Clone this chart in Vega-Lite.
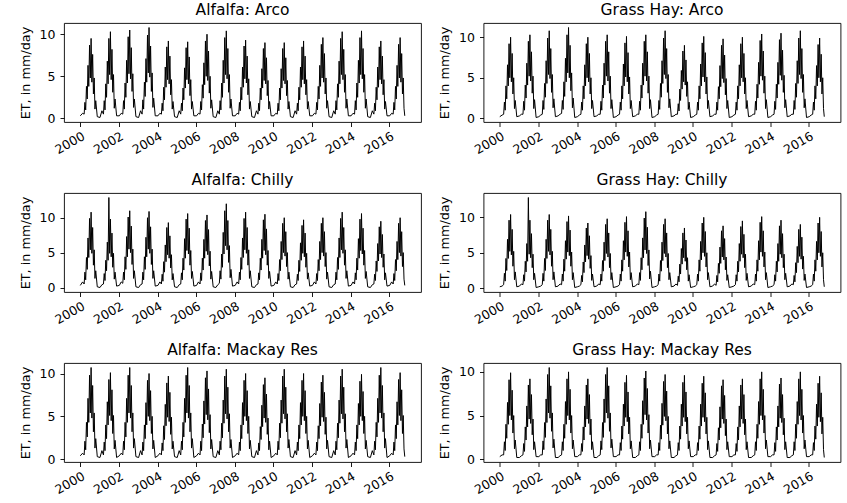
{
"$schema":"https://vega.github.io/schema/vega-lite/v6.json",
"padding":{"left":18,"top":2,"right":5,"bottom":5},
"config":{"font":"DejaVu Sans","view":{"stroke":"black","strokeWidth":0.9},
"axis":{"domain":false,"grid":false,"tickColor":"black","tickWidth":0.9,"labelColor":"black","labelFont":"DejaVu Sans","labelFontSize":12.5,"titleFont":"DejaVu Sans","titleFontWeight":"normal","titleColor":"black","labelOverlap":false,"labelFlush":false}},
"data":{"values":[
{"t":2000,"a":0.3,"b":0.2,"c":0.3,"d":0.2,"e":0.4,"f":0.3},
{"t":2000.12,"a":0.6,"b":0.4,"c":0.8,"d":0.3,"e":0.7,"f":0.5},
{"t":2000.2,"a":0.5,"b":0.5,"c":0.5,"d":0.5,"e":0.5,"f":0.5},
{"t":2000.24,"a":1.9,"b":2,"c":2.2,"d":2.1,"e":2.1,"f":2},
{"t":2000.28,"a":1,"b":1,"c":1.1,"d":1,"e":1.1,"f":1},
{"t":2000.32,"a":3.8,"b":4,"c":4.3,"d":4.2,"e":4.3,"f":4},
{"t":2000.36,"a":2.3,"b":2.4,"c":2.6,"d":2.5,"e":2.6,"f":2.4},
{"t":2000.4,"a":6.3,"b":6.6,"c":7.1,"d":6.9,"e":7.1,"f":6.5},
{"t":2000.44,"a":3.8,"b":4,"c":4.3,"d":4.2,"e":4.3,"f":4},
{"t":2000.48,"a":8.7,"b":9.2,"c":9.9,"d":9.6,"e":9.8,"f":9.1},
{"t":2000.52,"a":4.8,"b":5,"c":5.4,"d":5.2,"e":5.4,"f":5},
{"t":2000.56,"a":9.5,"b":10,"c":10.8,"d":10.4,"e":10.7,"f":9.9},
{"t":2000.6,"a":4.3,"b":4.5,"c":4.9,"d":4.7,"e":4.8,"f":4.5},
{"t":2000.64,"a":7.6,"b":8,"c":8.6,"d":8.3,"e":8.6,"f":7.9},
{"t":2000.68,"a":2.9,"b":3,"c":3.2,"d":3.1,"e":3.2,"f":3},
{"t":2000.72,"a":4.8,"b":5,"c":5.4,"d":5.2,"e":5.4,"f":5},
{"t":2000.76,"a":1.1,"b":1.2,"c":1.3,"d":1.2,"e":1.3,"f":1.2},
{"t":2000.8,"a":2.1,"b":2.2,"c":2.4,"d":2.3,"e":2.4,"f":2.2},
{"t":2000.88,"a":0.2,"b":0.2,"c":0.1,"d":0.2,"e":0.3,"f":0.2},
{"t":2001.02,"a":0.1,"b":0.3,"c":0,"d":0.3,"e":0.2,"f":0.2},
{"t":2001.12,"a":0.9,"b":0.5,"c":0.4,"d":0.6,"e":1,"f":0.4},
{"t":2001.2,"a":0.5,"b":0.5,"c":0.5,"d":0.5,"e":0.5,"f":0.5},
{"t":2001.24,"a":2.1,"b":2.1,"c":2,"d":1.9,"e":2,"f":1.8},
{"t":2001.28,"a":1,"b":1,"c":1,"d":1,"e":1,"f":0.9},
{"t":2001.32,"a":4.1,"b":4.1,"c":3.9,"d":3.8,"e":4,"f":3.7},
{"t":2001.36,"a":2.5,"b":2.5,"c":2.4,"d":2.3,"e":2.4,"f":2.2},
{"t":2001.4,"a":6.8,"b":6.8,"c":6.5,"d":6.3,"e":6.7,"f":6.1},
{"t":2001.44,"a":4.1,"b":4.1,"c":3.9,"d":3.8,"e":4,"f":3.7},
{"t":2001.48,"a":9.5,"b":9.5,"c":12.9,"d":12.8,"e":9.3,"f":8.5},
{"t":2001.52,"a":5.2,"b":5.2,"c":4.9,"d":4.8,"e":5.1,"f":4.6},
{"t":2001.56,"a":10.3,"b":10.3,"c":9.8,"d":9.6,"e":10.1,"f":9.2},
{"t":2001.6,"a":4.6,"b":4.6,"c":4.4,"d":4.3,"e":4.5,"f":4.1},
{"t":2001.64,"a":8.2,"b":8.2,"c":7.8,"d":7.7,"e":8.1,"f":7.4},
{"t":2001.68,"a":3.1,"b":3.1,"c":2.9,"d":2.9,"e":3,"f":2.8},
{"t":2001.72,"a":5.2,"b":5.2,"c":4.9,"d":4.8,"e":5.1,"f":4.6},
{"t":2001.76,"a":1.2,"b":1.2,"c":1.2,"d":1.2,"e":1.2,"f":1.1},
{"t":2001.8,"a":2.3,"b":2.3,"c":2.2,"d":2.1,"e":2.2,"f":2},
{"t":2001.88,"a":0.3,"b":0.1,"c":0.2,"d":0.1,"e":0.2,"f":0.3},
{"t":2002.02,"a":0.3,"b":0.2,"c":0.3,"d":0.2,"e":0.4,"f":0.3},
{"t":2002.12,"a":0.6,"b":0.4,"c":0.8,"d":0.3,"e":0.7,"f":0.5},
{"t":2002.2,"a":0.5,"b":0.5,"c":0.6,"d":0.5,"e":0.5,"f":0.5},
{"t":2002.24,"a":2.1,"b":2.2,"c":2.2,"d":2.1,"e":2.1,"f":2.1},
{"t":2002.28,"a":1.1,"b":1.1,"c":1.1,"d":1,"e":1.1,"f":1.1},
{"t":2002.32,"a":4.2,"b":4.3,"c":4.4,"d":4.2,"e":4.3,"f":4.2},
{"t":2002.36,"a":2.5,"b":2.6,"c":2.6,"d":2.5,"e":2.6,"f":2.5},
{"t":2002.4,"a":6.9,"b":7.1,"c":7.3,"d":6.9,"e":7.1,"f":6.9},
{"t":2002.44,"a":4.2,"b":4.3,"c":4.4,"d":4.2,"e":4.3,"f":4.2},
{"t":2002.48,"a":9.7,"b":9.9,"c":10.1,"d":9.6,"e":9.8,"f":9.7},
{"t":2002.52,"a":5.3,"b":5.4,"c":5.5,"d":5.2,"e":5.4,"f":5.3},
{"t":2002.56,"a":10.5,"b":10.8,"c":11,"d":10.4,"e":10.7,"f":10.5},
{"t":2002.6,"a":4.7,"b":4.9,"c":5,"d":4.7,"e":4.8,"f":4.7},
{"t":2002.64,"a":8.4,"b":8.6,"c":8.8,"d":8.3,"e":8.6,"f":8.4},
{"t":2002.68,"a":3.2,"b":3.2,"c":3.3,"d":3.1,"e":3.2,"f":3.2},
{"t":2002.72,"a":5.3,"b":5.4,"c":5.5,"d":5.2,"e":5.4,"f":5.3},
{"t":2002.76,"a":1.3,"b":1.3,"c":1.3,"d":1.2,"e":1.3,"f":1.3},
{"t":2002.8,"a":2.3,"b":2.4,"c":2.4,"d":2.3,"e":2.4,"f":2.3},
{"t":2002.88,"a":0.2,"b":0.2,"c":0.1,"d":0.2,"e":0.3,"f":0.2},
{"t":2003.02,"a":0.1,"b":0.3,"c":0,"d":0.3,"e":0.2,"f":0.2},
{"t":2003.12,"a":0.9,"b":0.5,"c":0.4,"d":0.6,"e":1,"f":0.4},
{"t":2003.2,"a":0.5,"b":0.6,"c":0.5,"d":0.5,"e":0.5,"f":0.5},
{"t":2003.24,"a":2.2,"b":2.2,"c":2.2,"d":2,"e":2,"f":2},
{"t":2003.28,"a":1.1,"b":1.1,"c":1.1,"d":1,"e":1,"f":1},
{"t":2003.32,"a":4.3,"b":4.5,"c":4.4,"d":4.1,"e":4,"f":4},
{"t":2003.36,"a":2.6,"b":2.7,"c":2.6,"d":2.4,"e":2.4,"f":2.4},
{"t":2003.4,"a":7.1,"b":7.4,"c":7.2,"d":6.7,"e":6.6,"f":6.6},
{"t":2003.44,"a":4.3,"b":4.5,"c":4.4,"d":4.1,"e":4,"f":4},
{"t":2003.48,"a":9.9,"b":10.3,"c":10,"d":9.4,"e":9.2,"f":9.2},
{"t":2003.52,"a":5.4,"b":5.6,"c":5.5,"d":5.1,"e":5,"f":5},
{"t":2003.56,"a":10.8,"b":11.2,"c":10.9,"d":10.2,"e":10,"f":10},
{"t":2003.6,"a":4.9,"b":5,"c":4.9,"d":4.6,"e":4.5,"f":4.5},
{"t":2003.64,"a":8.6,"b":9,"c":8.7,"d":8.2,"e":8,"f":8},
{"t":2003.68,"a":3.2,"b":3.4,"c":3.3,"d":3.1,"e":3,"f":3},
{"t":2003.72,"a":5.4,"b":5.6,"c":5.5,"d":5.1,"e":5,"f":5},
{"t":2003.76,"a":1.3,"b":1.3,"c":1.3,"d":1.2,"e":1.2,"f":1.2},
{"t":2003.8,"a":2.4,"b":2.5,"c":2.4,"d":2.2,"e":2.2,"f":2.2},
{"t":2003.88,"a":0.3,"b":0.1,"c":0.2,"d":0.1,"e":0.2,"f":0.3},
{"t":2004.02,"a":0.3,"b":0.2,"c":0.3,"d":0.2,"e":0.4,"f":0.3},
{"t":2004.12,"a":0.6,"b":0.4,"c":0.8,"d":0.3,"e":0.7,"f":0.5},
{"t":2004.2,"a":0.5,"b":0.5,"c":0.5,"d":0.5,"e":0.5,"f":0.5},
{"t":2004.24,"a":1.8,"b":2,"c":1.9,"d":1.8,"e":1.9,"f":1.8},
{"t":2004.28,"a":0.9,"b":1,"c":0.9,"d":0.9,"e":1,"f":0.9},
{"t":2004.32,"a":3.7,"b":4,"c":3.7,"d":3.7,"e":3.9,"f":3.7},
{"t":2004.36,"a":2.2,"b":2.4,"c":2.2,"d":2.2,"e":2.3,"f":2.2},
{"t":2004.4,"a":6.1,"b":6.6,"c":6.1,"d":6.1,"e":6.4,"f":6.1},
{"t":2004.44,"a":3.7,"b":4,"c":3.7,"d":3.7,"e":3.9,"f":3.7},
{"t":2004.48,"a":8.5,"b":9.2,"c":8.6,"d":8.5,"e":8.9,"f":8.5},
{"t":2004.52,"a":4.6,"b":5,"c":4.7,"d":4.6,"e":4.9,"f":4.6},
{"t":2004.56,"a":9.2,"b":10,"c":9.3,"d":9.2,"e":9.7,"f":9.2},
{"t":2004.6,"a":4.1,"b":4.5,"c":4.2,"d":4.1,"e":4.4,"f":4.1},
{"t":2004.64,"a":7.4,"b":8,"c":7.4,"d":7.4,"e":7.8,"f":7.4},
{"t":2004.68,"a":2.8,"b":3,"c":2.8,"d":2.8,"e":2.9,"f":2.8},
{"t":2004.72,"a":4.6,"b":5,"c":4.7,"d":4.6,"e":4.9,"f":4.6},
{"t":2004.76,"a":1.1,"b":1.2,"c":1.1,"d":1.1,"e":1.2,"f":1.1},
{"t":2004.8,"a":2,"b":2.2,"c":2,"d":2,"e":2.1,"f":2},
{"t":2004.88,"a":0.2,"b":0.2,"c":0.1,"d":0.2,"e":0.3,"f":0.2},
{"t":2005.02,"a":0.1,"b":0.3,"c":0,"d":0.3,"e":0.2,"f":0.2},
{"t":2005.12,"a":0.9,"b":0.5,"c":0.4,"d":0.6,"e":1,"f":0.4},
{"t":2005.2,"a":0.5,"b":0.5,"c":0.5,"d":0.5,"e":0.5,"f":0.5},
{"t":2005.24,"a":1.8,"b":2.1,"c":2.1,"d":2,"e":2.1,"f":2.1},
{"t":2005.28,"a":0.9,"b":1,"c":1.1,"d":1,"e":1.1,"f":1.1},
{"t":2005.32,"a":3.6,"b":4.1,"c":4.2,"d":3.9,"e":4.3,"f":4.2},
{"t":2005.36,"a":2.2,"b":2.5,"c":2.5,"d":2.4,"e":2.6,"f":2.5},
{"t":2005.4,"a":6,"b":6.8,"c":7,"d":6.5,"e":7.1,"f":6.9},
{"t":2005.44,"a":3.6,"b":4.1,"c":4.2,"d":3.9,"e":4.3,"f":4.2},
{"t":2005.48,"a":8.4,"b":9.5,"c":9.8,"d":9,"e":9.8,"f":9.7},
{"t":2005.52,"a":4.6,"b":5.2,"c":5.3,"d":4.9,"e":5.4,"f":5.3},
{"t":2005.56,"a":9.1,"b":10.3,"c":10.6,"d":9.8,"e":10.7,"f":10.5},
{"t":2005.6,"a":4.1,"b":4.6,"c":4.8,"d":4.4,"e":4.8,"f":4.7},
{"t":2005.64,"a":7.3,"b":8.2,"c":8.5,"d":7.8,"e":8.6,"f":8.4},
{"t":2005.68,"a":2.7,"b":3.1,"c":3.2,"d":2.9,"e":3.2,"f":3.2},
{"t":2005.72,"a":4.6,"b":5.2,"c":5.3,"d":4.9,"e":5.4,"f":5.3},
{"t":2005.76,"a":1.1,"b":1.2,"c":1.3,"d":1.2,"e":1.3,"f":1.3},
{"t":2005.8,"a":2,"b":2.3,"c":2.3,"d":2.2,"e":2.4,"f":2.3},
{"t":2005.88,"a":0.3,"b":0.1,"c":0.2,"d":0.1,"e":0.2,"f":0.3},
{"t":2006.02,"a":0.3,"b":0.2,"c":0.3,"d":0.2,"e":0.4,"f":0.3},
{"t":2006.12,"a":0.6,"b":0.4,"c":0.8,"d":0.3,"e":0.7,"f":0.5},
{"t":2006.2,"a":0.5,"b":0.5,"c":0.5,"d":0.5,"e":0.5,"f":0.5},
{"t":2006.24,"a":2,"b":2,"c":2.1,"d":2,"e":2.1,"f":1.9},
{"t":2006.28,"a":1,"b":1,"c":1,"d":1,"e":1,"f":1},
{"t":2006.32,"a":4,"b":4,"c":4.2,"d":4,"e":4.1,"f":3.8},
{"t":2006.36,"a":2.4,"b":2.4,"c":2.5,"d":2.4,"e":2.5,"f":2.3},
{"t":2006.4,"a":6.6,"b":6.7,"c":6.9,"d":6.7,"e":6.8,"f":6.3},
{"t":2006.44,"a":4,"b":4,"c":4.2,"d":4,"e":4.1,"f":3.8},
{"t":2006.48,"a":9.2,"b":9.3,"c":9.6,"d":9.3,"e":9.5,"f":8.8},
{"t":2006.52,"a":5,"b":5.1,"c":5.2,"d":5.1,"e":5.2,"f":4.8},
{"t":2006.56,"a":10,"b":10.1,"c":10.4,"d":10.1,"e":10.3,"f":9.6},
{"t":2006.6,"a":4.5,"b":4.5,"c":4.7,"d":4.5,"e":4.6,"f":4.3},
{"t":2006.64,"a":8,"b":8.1,"c":8.3,"d":8.1,"e":8.2,"f":7.7},
{"t":2006.68,"a":3,"b":3,"c":3.1,"d":3,"e":3.1,"f":2.9},
{"t":2006.72,"a":5,"b":5.1,"c":5.2,"d":5.1,"e":5.2,"f":4.8},
{"t":2006.76,"a":1.2,"b":1.2,"c":1.2,"d":1.2,"e":1.2,"f":1.2},
{"t":2006.8,"a":2.2,"b":2.2,"c":2.3,"d":2.2,"e":2.3,"f":2.1},
{"t":2006.88,"a":0.2,"b":0.2,"c":0.1,"d":0.2,"e":0.3,"f":0.2},
{"t":2007.02,"a":0.1,"b":0.3,"c":0,"d":0.3,"e":0.2,"f":0.2},
{"t":2007.12,"a":0.9,"b":0.5,"c":0.4,"d":0.6,"e":1,"f":0.4},
{"t":2007.2,"a":0.5,"b":0.5,"c":0.6,"d":0.5,"e":0.5,"f":0.5},
{"t":2007.24,"a":2.1,"b":2.1,"c":2.4,"d":2.2,"e":2.1,"f":2},
{"t":2007.28,"a":1,"b":1,"c":1.2,"d":1.1,"e":1.1,"f":1},
{"t":2007.32,"a":4.2,"b":4.1,"c":4.8,"d":4.3,"e":4.2,"f":4},
{"t":2007.36,"a":2.5,"b":2.5,"c":2.9,"d":2.6,"e":2.5,"f":2.4},
{"t":2007.4,"a":6.9,"b":6.8,"c":7.9,"d":7.1,"e":6.9,"f":6.7},
{"t":2007.44,"a":4.2,"b":4.1,"c":4.8,"d":4.3,"e":4.2,"f":4},
{"t":2007.48,"a":9.6,"b":9.5,"c":11,"d":9.9,"e":9.7,"f":9.3},
{"t":2007.52,"a":5.2,"b":5.2,"c":6,"d":5.4,"e":5.3,"f":5.1},
{"t":2007.56,"a":10.4,"b":10.3,"c":12,"d":10.8,"e":10.5,"f":10.1},
{"t":2007.6,"a":4.7,"b":4.6,"c":5.4,"d":4.9,"e":4.7,"f":4.5},
{"t":2007.64,"a":8.3,"b":8.2,"c":9.6,"d":8.6,"e":8.4,"f":8.1},
{"t":2007.68,"a":3.1,"b":3.1,"c":3.6,"d":3.2,"e":3.2,"f":3},
{"t":2007.72,"a":5.2,"b":5.2,"c":6,"d":5.4,"e":5.3,"f":5.1},
{"t":2007.76,"a":1.2,"b":1.2,"c":1.4,"d":1.3,"e":1.3,"f":1.2},
{"t":2007.8,"a":2.3,"b":2.3,"c":2.6,"d":2.4,"e":2.3,"f":2.2},
{"t":2007.88,"a":0.3,"b":0.1,"c":0.2,"d":0.1,"e":0.2,"f":0.3},
{"t":2008.02,"a":0.3,"b":0.2,"c":0.3,"d":0.2,"e":0.4,"f":0.3},
{"t":2008.12,"a":0.6,"b":0.4,"c":0.8,"d":0.3,"e":0.7,"f":0.5},
{"t":2008.2,"a":0.5,"b":0.5,"c":0.5,"d":0.5,"e":0.5,"f":0.5},
{"t":2008.24,"a":1.9,"b":2.2,"c":2.2,"d":2,"e":2,"f":1.9},
{"t":2008.28,"a":0.9,"b":1.1,"c":1.1,"d":1,"e":1,"f":1},
{"t":2008.32,"a":3.7,"b":4.3,"c":4.3,"d":3.9,"e":4,"f":3.9},
{"t":2008.36,"a":2.2,"b":2.6,"c":2.6,"d":2.4,"e":2.4,"f":2.3},
{"t":2008.4,"a":6.1,"b":7.1,"c":7.1,"d":6.5,"e":6.6,"f":6.4},
{"t":2008.44,"a":3.7,"b":4.3,"c":4.3,"d":3.9,"e":4,"f":3.9},
{"t":2008.48,"a":8.6,"b":9.9,"c":9.9,"d":9,"e":9.2,"f":8.9},
{"t":2008.52,"a":4.7,"b":5.4,"c":5.4,"d":4.9,"e":5,"f":4.9},
{"t":2008.56,"a":9.3,"b":10.8,"c":10.8,"d":9.8,"e":10,"f":9.7},
{"t":2008.6,"a":4.2,"b":4.9,"c":4.9,"d":4.4,"e":4.5,"f":4.4},
{"t":2008.64,"a":7.4,"b":8.6,"c":8.6,"d":7.8,"e":8,"f":7.8},
{"t":2008.68,"a":2.8,"b":3.2,"c":3.2,"d":2.9,"e":3,"f":2.9},
{"t":2008.72,"a":4.7,"b":5.4,"c":5.4,"d":4.9,"e":5,"f":4.9},
{"t":2008.76,"a":1.1,"b":1.3,"c":1.3,"d":1.2,"e":1.2,"f":1.2},
{"t":2008.8,"a":2,"b":2.4,"c":2.4,"d":2.2,"e":2.2,"f":2.1},
{"t":2008.88,"a":0.2,"b":0.2,"c":0.1,"d":0.2,"e":0.3,"f":0.2},
{"t":2009.02,"a":0.1,"b":0.3,"c":0,"d":0.3,"e":0.2,"f":0.2},
{"t":2009.12,"a":0.9,"b":0.5,"c":0.4,"d":0.6,"e":1,"f":0.4},
{"t":2009.2,"a":0.5,"b":0.5,"c":0.5,"d":0.4,"e":0.5,"f":0.5},
{"t":2009.24,"a":1.8,"b":1.8,"c":2.1,"d":1.7,"e":1.9,"f":1.9},
{"t":2009.28,"a":0.9,"b":0.9,"c":1.1,"d":0.9,"e":1,"f":1},
{"t":2009.32,"a":3.6,"b":3.6,"c":4.2,"d":3.4,"e":3.8,"f":3.8},
{"t":2009.36,"a":2.2,"b":2.2,"c":2.5,"d":2,"e":2.3,"f":2.3},
{"t":2009.4,"a":5.9,"b":5.9,"c":6.9,"d":5.6,"e":6.3,"f":6.3},
{"t":2009.44,"a":3.6,"b":3.6,"c":4.2,"d":3.4,"e":3.8,"f":3.8},
{"t":2009.48,"a":8.3,"b":8.3,"c":9.7,"d":7.8,"e":8.7,"f":8.8},
{"t":2009.52,"a":4.5,"b":4.5,"c":5.3,"d":4.3,"e":4.8,"f":4.8},
{"t":2009.56,"a":9,"b":9,"c":10.5,"d":8.5,"e":9.5,"f":9.6},
{"t":2009.6,"a":4.1,"b":4.1,"c":4.7,"d":3.8,"e":4.3,"f":4.3},
{"t":2009.64,"a":7.2,"b":7.2,"c":8.4,"d":6.8,"e":7.6,"f":7.7},
{"t":2009.68,"a":2.7,"b":2.7,"c":3.2,"d":2.6,"e":2.9,"f":2.9},
{"t":2009.72,"a":4.5,"b":4.5,"c":5.3,"d":4.3,"e":4.8,"f":4.8},
{"t":2009.76,"a":1.1,"b":1.1,"c":1.3,"d":1,"e":1.1,"f":1.2},
{"t":2009.8,"a":2,"b":2,"c":2.3,"d":1.9,"e":2.1,"f":2.1},
{"t":2009.88,"a":0.3,"b":0.1,"c":0.2,"d":0.1,"e":0.2,"f":0.3},
{"t":2010.02,"a":0.3,"b":0.2,"c":0.3,"d":0.2,"e":0.4,"f":0.3},
{"t":2010.12,"a":0.6,"b":0.4,"c":0.8,"d":0.3,"e":0.7,"f":0.5},
{"t":2010.2,"a":0.5,"b":0.5,"c":0.5,"d":0.5,"e":0.5,"f":0.5},
{"t":2010.24,"a":1.8,"b":2,"c":2,"d":2,"e":2.1,"f":1.9},
{"t":2010.28,"a":0.9,"b":1,"c":1,"d":1,"e":1.1,"f":1},
{"t":2010.32,"a":3.6,"b":4,"c":4,"d":4,"e":4.2,"f":3.8},
{"t":2010.36,"a":2.2,"b":2.4,"c":2.4,"d":2.4,"e":2.5,"f":2.3},
{"t":2010.4,"a":5.9,"b":6.7,"c":6.6,"d":6.6,"e":6.9,"f":6.3},
{"t":2010.44,"a":3.6,"b":4,"c":4,"d":4,"e":4.2,"f":3.8},
{"t":2010.48,"a":8.3,"b":9.3,"c":9.2,"d":9.2,"e":9.7,"f":8.7},
{"t":2010.52,"a":4.5,"b":5.1,"c":5,"d":5,"e":5.3,"f":4.8},
{"t":2010.56,"a":9,"b":10.1,"c":10,"d":10,"e":10.5,"f":9.5},
{"t":2010.6,"a":4.1,"b":4.5,"c":4.5,"d":4.5,"e":4.7,"f":4.3},
{"t":2010.64,"a":7.2,"b":8.1,"c":8,"d":8,"e":8.4,"f":7.6},
{"t":2010.68,"a":2.7,"b":3,"c":3,"d":3,"e":3.2,"f":2.9},
{"t":2010.72,"a":4.5,"b":5.1,"c":5,"d":5,"e":5.3,"f":4.8},
{"t":2010.76,"a":1.1,"b":1.2,"c":1.2,"d":1.2,"e":1.3,"f":1.1},
{"t":2010.8,"a":2,"b":2.2,"c":2.2,"d":2.2,"e":2.3,"f":2.1},
{"t":2010.88,"a":0.2,"b":0.2,"c":0.1,"d":0.2,"e":0.3,"f":0.2},
{"t":2011.02,"a":0.1,"b":0.3,"c":0,"d":0.3,"e":0.2,"f":0.2},
{"t":2011.12,"a":0.9,"b":0.5,"c":0.4,"d":0.6,"e":1,"f":0.4},
{"t":2011.2,"a":0.5,"b":0.5,"c":0.5,"d":0.4,"e":0.5,"f":0.5},
{"t":2011.24,"a":1.8,"b":2,"c":1.9,"d":1.8,"e":2,"f":1.8},
{"t":2011.28,"a":0.9,"b":1,"c":1,"d":0.9,"e":1,"f":0.9},
{"t":2011.32,"a":3.7,"b":3.9,"c":3.9,"d":3.5,"e":4,"f":3.6},
{"t":2011.36,"a":2.2,"b":2.4,"c":2.3,"d":2.1,"e":2.4,"f":2.2},
{"t":2011.4,"a":6.1,"b":6.5,"c":6.4,"d":5.8,"e":6.6,"f":6},
{"t":2011.44,"a":3.7,"b":3.9,"c":3.9,"d":3.5,"e":4,"f":3.6},
{"t":2011.48,"a":8.5,"b":9,"c":8.9,"d":8.1,"e":9.2,"f":8.4},
{"t":2011.52,"a":4.6,"b":4.9,"c":4.9,"d":4.4,"e":5,"f":4.6},
{"t":2011.56,"a":9.2,"b":9.8,"c":9.7,"d":8.8,"e":10,"f":9.1},
{"t":2011.6,"a":4.1,"b":4.4,"c":4.4,"d":4,"e":4.5,"f":4.1},
{"t":2011.64,"a":7.4,"b":7.8,"c":7.8,"d":7,"e":8,"f":7.3},
{"t":2011.68,"a":2.8,"b":2.9,"c":2.9,"d":2.6,"e":3,"f":2.7},
{"t":2011.72,"a":4.6,"b":4.9,"c":4.9,"d":4.4,"e":5,"f":4.6},
{"t":2011.76,"a":1.1,"b":1.2,"c":1.2,"d":1.1,"e":1.2,"f":1.1},
{"t":2011.8,"a":2,"b":2.2,"c":2.1,"d":1.9,"e":2.2,"f":2},
{"t":2011.88,"a":0.3,"b":0.1,"c":0.2,"d":0.1,"e":0.2,"f":0.3},
{"t":2012.02,"a":0.3,"b":0.2,"c":0.3,"d":0.2,"e":0.4,"f":0.3},
{"t":2012.12,"a":0.6,"b":0.4,"c":0.8,"d":0.3,"e":0.7,"f":0.5},
{"t":2012.2,"a":0.5,"b":0.5,"c":0.5,"d":0.5,"e":0.5,"f":0.5},
{"t":2012.24,"a":1.9,"b":2,"c":2,"d":1.9,"e":2,"f":1.8},
{"t":2012.28,"a":1,"b":1,"c":1,"d":1,"e":1,"f":0.9},
{"t":2012.32,"a":3.8,"b":4,"c":4,"d":3.8,"e":3.9,"f":3.7},
{"t":2012.36,"a":2.3,"b":2.4,"c":2.4,"d":2.3,"e":2.4,"f":2.2},
{"t":2012.4,"a":6.3,"b":6.6,"c":6.6,"d":6.3,"e":6.5,"f":6.1},
{"t":2012.44,"a":3.8,"b":4,"c":4,"d":3.8,"e":3.9,"f":3.7},
{"t":2012.48,"a":8.8,"b":9.2,"c":9.2,"d":8.7,"e":9,"f":8.5},
{"t":2012.52,"a":4.8,"b":5,"c":5,"d":4.8,"e":4.9,"f":4.6},
{"t":2012.56,"a":9.6,"b":10,"c":10,"d":9.5,"e":9.8,"f":9.2},
{"t":2012.6,"a":4.3,"b":4.5,"c":4.5,"d":4.3,"e":4.4,"f":4.1},
{"t":2012.64,"a":7.7,"b":8,"c":8,"d":7.6,"e":7.8,"f":7.4},
{"t":2012.68,"a":2.9,"b":3,"c":3,"d":2.9,"e":2.9,"f":2.8},
{"t":2012.72,"a":4.8,"b":5,"c":5,"d":4.8,"e":4.9,"f":4.6},
{"t":2012.76,"a":1.2,"b":1.2,"c":1.2,"d":1.1,"e":1.2,"f":1.1},
{"t":2012.8,"a":2.1,"b":2.2,"c":2.2,"d":2.1,"e":2.2,"f":2},
{"t":2012.88,"a":0.2,"b":0.2,"c":0.1,"d":0.2,"e":0.3,"f":0.2},
{"t":2013.02,"a":0.1,"b":0.3,"c":0,"d":0.3,"e":0.2,"f":0.2},
{"t":2013.12,"a":0.9,"b":0.5,"c":0.4,"d":0.6,"e":1,"f":0.4},
{"t":2013.2,"a":0.5,"b":0.5,"c":0.5,"d":0.5,"e":0.5,"f":0.5},
{"t":2013.24,"a":2.1,"b":2.1,"c":2.2,"d":2,"e":2.1,"f":2},
{"t":2013.28,"a":1,"b":1,"c":1.1,"d":1,"e":1.1,"f":1},
{"t":2013.32,"a":4.1,"b":4.2,"c":4.3,"d":4,"e":4.2,"f":4},
{"t":2013.36,"a":2.5,"b":2.5,"c":2.6,"d":2.4,"e":2.5,"f":2.4},
{"t":2013.4,"a":6.8,"b":6.9,"c":7.1,"d":6.7,"e":6.9,"f":6.6},
{"t":2013.44,"a":4.1,"b":4.2,"c":4.3,"d":4,"e":4.2,"f":4},
{"t":2013.48,"a":9.5,"b":9.6,"c":9.9,"d":9.3,"e":9.7,"f":9.2},
{"t":2013.52,"a":5.2,"b":5.2,"c":5.4,"d":5.1,"e":5.3,"f":5},
{"t":2013.56,"a":10.3,"b":10.4,"c":10.8,"d":10.1,"e":10.5,"f":10},
{"t":2013.6,"a":4.6,"b":4.7,"c":4.9,"d":4.5,"e":4.7,"f":4.5},
{"t":2013.64,"a":8.2,"b":8.3,"c":8.6,"d":8.1,"e":8.4,"f":8},
{"t":2013.68,"a":3.1,"b":3.1,"c":3.2,"d":3,"e":3.2,"f":3},
{"t":2013.72,"a":5.2,"b":5.2,"c":5.4,"d":5.1,"e":5.3,"f":5},
{"t":2013.76,"a":1.2,"b":1.2,"c":1.3,"d":1.2,"e":1.3,"f":1.2},
{"t":2013.8,"a":2.3,"b":2.3,"c":2.4,"d":2.2,"e":2.3,"f":2.2},
{"t":2013.88,"a":0.3,"b":0.1,"c":0.2,"d":0.1,"e":0.2,"f":0.3},
{"t":2014.02,"a":0.3,"b":0.2,"c":0.3,"d":0.2,"e":0.4,"f":0.3},
{"t":2014.12,"a":0.6,"b":0.4,"c":0.8,"d":0.3,"e":0.7,"f":0.5},
{"t":2014.2,"a":0.5,"b":0.5,"c":0.5,"d":0.5,"e":0.5,"f":0.5},
{"t":2014.24,"a":2.1,"b":2.1,"c":2.1,"d":1.9,"e":2,"f":1.9},
{"t":2014.28,"a":1,"b":1.1,"c":1.1,"d":1,"e":1,"f":0.9},
{"t":2014.32,"a":4.2,"b":4.2,"c":4.2,"d":3.8,"e":4,"f":3.7},
{"t":2014.36,"a":2.5,"b":2.5,"c":2.5,"d":2.3,"e":2.4,"f":2.2},
{"t":2014.4,"a":6.9,"b":6.9,"c":7,"d":6.3,"e":6.5,"f":6.1},
{"t":2014.44,"a":4.2,"b":4.2,"c":4.2,"d":3.8,"e":4,"f":3.7},
{"t":2014.48,"a":9.6,"b":9.7,"c":9.8,"d":8.8,"e":9.1,"f":8.6},
{"t":2014.52,"a":5.2,"b":5.3,"c":5.3,"d":4.8,"e":5,"f":4.7},
{"t":2014.56,"a":10.4,"b":10.5,"c":10.6,"d":9.6,"e":9.9,"f":9.3},
{"t":2014.6,"a":4.7,"b":4.7,"c":4.8,"d":4.3,"e":4.5,"f":4.2},
{"t":2014.64,"a":8.3,"b":8.4,"c":8.5,"d":7.7,"e":7.9,"f":7.4},
{"t":2014.68,"a":3.1,"b":3.2,"c":3.2,"d":2.9,"e":3,"f":2.8},
{"t":2014.72,"a":5.2,"b":5.3,"c":5.3,"d":4.8,"e":5,"f":4.7},
{"t":2014.76,"a":1.2,"b":1.3,"c":1.3,"d":1.2,"e":1.2,"f":1.1},
{"t":2014.8,"a":2.3,"b":2.3,"c":2.3,"d":2.1,"e":2.2,"f":2},
{"t":2014.88,"a":0.2,"b":0.2,"c":0.1,"d":0.2,"e":0.3,"f":0.2},
{"t":2015.02,"a":0.1,"b":0.3,"c":0,"d":0.3,"e":0.2,"f":0.2},
{"t":2015.12,"a":0.9,"b":0.5,"c":0.4,"d":0.6,"e":1,"f":0.4},
{"t":2015.2,"a":0.5,"b":0.5,"c":0.5,"d":0.5,"e":0.5,"f":0.5},
{"t":2015.24,"a":1.8,"b":2.2,"c":1.9,"d":1.8,"e":2.1,"f":2},
{"t":2015.28,"a":0.9,"b":1.1,"c":1,"d":0.9,"e":1.1,"f":1},
{"t":2015.32,"a":3.7,"b":4.3,"c":3.8,"d":3.6,"e":4.3,"f":4},
{"t":2015.36,"a":2.2,"b":2.6,"c":2.3,"d":2.2,"e":2.6,"f":2.4},
{"t":2015.4,"a":6.1,"b":7.1,"c":6.3,"d":5.9,"e":7.1,"f":6.6},
{"t":2015.44,"a":3.7,"b":4.3,"c":3.8,"d":3.6,"e":4.3,"f":4},
{"t":2015.48,"a":8.5,"b":9.9,"c":8.7,"d":8.3,"e":9.8,"f":9.2},
{"t":2015.52,"a":4.6,"b":5.4,"c":4.8,"d":4.5,"e":5.4,"f":5},
{"t":2015.56,"a":9.2,"b":10.8,"c":9.5,"d":9,"e":10.7,"f":10},
{"t":2015.6,"a":4.1,"b":4.9,"c":4.3,"d":4.1,"e":4.8,"f":4.5},
{"t":2015.64,"a":7.4,"b":8.6,"c":7.6,"d":7.2,"e":8.6,"f":8},
{"t":2015.68,"a":2.8,"b":3.2,"c":2.9,"d":2.7,"e":3.2,"f":3},
{"t":2015.72,"a":4.6,"b":5.4,"c":4.8,"d":4.5,"e":5.4,"f":5},
{"t":2015.76,"a":1.1,"b":1.3,"c":1.1,"d":1.1,"e":1.3,"f":1.2},
{"t":2015.8,"a":2,"b":2.4,"c":2.1,"d":2,"e":2.4,"f":2.2},
{"t":2015.88,"a":0.3,"b":0.1,"c":0.2,"d":0.1,"e":0.2,"f":0.3},
{"t":2016.02,"a":0.3,"b":0.2,"c":0.3,"d":0.2,"e":0.4,"f":0.3},
{"t":2016.12,"a":0.6,"b":0.4,"c":0.8,"d":0.3,"e":0.7,"f":0.5},
{"t":2016.2,"a":0.5,"b":0.5,"c":0.5,"d":0.5,"e":0.5,"f":0.5},
{"t":2016.24,"a":1.9,"b":2,"c":2,"d":2,"e":2,"f":1.9},
{"t":2016.28,"a":1,"b":1,"c":1,"d":1,"e":1,"f":1},
{"t":2016.32,"a":3.8,"b":4,"c":4,"d":4,"e":4,"f":3.8},
{"t":2016.36,"a":2.3,"b":2.4,"c":2.4,"d":2.4,"e":2.4,"f":2.3},
{"t":2016.4,"a":6.3,"b":6.5,"c":6.6,"d":6.6,"e":6.7,"f":6.3},
{"t":2016.44,"a":3.8,"b":4,"c":4,"d":4,"e":4,"f":3.8},
{"t":2016.48,"a":8.8,"b":9.1,"c":9.2,"d":9.2,"e":9.3,"f":8.7},
{"t":2016.52,"a":4.8,"b":5,"c":5,"d":5,"e":5.1,"f":4.8},
{"t":2016.56,"a":9.6,"b":9.9,"c":10,"d":10,"e":10.1,"f":9.5},
{"t":2016.6,"a":4.3,"b":4.5,"c":4.5,"d":4.5,"e":4.5,"f":4.3},
{"t":2016.64,"a":7.7,"b":7.9,"c":8,"d":8,"e":8.1,"f":7.6},
{"t":2016.68,"a":2.9,"b":3,"c":3,"d":3,"e":3,"f":2.9},
{"t":2016.72,"a":4.8,"b":5,"c":5,"d":5,"e":5.1,"f":4.8},
{"t":2016.76,"a":1.2,"b":1.2,"c":1.2,"d":1.2,"e":1.2,"f":1.1},
{"t":2016.8,"a":0.3,"b":0.2,"c":0.3,"d":0.2,"e":0.3,"f":0.2}
]},
"transform":[{"fold":["a","b","c","d","e","f"],"as":["k","v"]}],
"facet":{"field":"k","type":"nominal","title":null,
 "header":{"labelExpr":"datum.value=='a'?'Alfalfa: Arco':datum.value=='b'?'Grass Hay: Arco':datum.value=='c'?'Alfalfa: Chilly':datum.value=='d'?'Grass Hay: Chilly':datum.value=='e'?'Alfalfa: Mackay Res':'Grass Hay: Mackay Res'",
 "labelFontSize":15.5,"labelFont":"DejaVu Sans","labelColor":"black","labelPadding":5}},
"columns":2,
"bounds":"flush",
"spacing":{"row":71,"column":62.5},
"spec":{
 "width":357,"height":99,
 "mark":{"type":"line","color":"black","strokeWidth":1},
 "encoding":{
  "x":{"field":"t","type":"quantitative","scale":{"domain":[1999.157,2017.64],"nice":false,"zero":false},
   "axis":{"title":null,"values":[2000,2002,2004,2006,2008,2010,2012,2014,2016],"format":"d","labelAngle":-30,"labelAlign":"right","labelBaseline":"top","labelPadding":3,"tickSize":4.5}},
  "y":{"field":"v","type":"quantitative","scale":{"zero":false,"nice":false,"padding":4.5},
   "axis":{"title":"ET, in mm/day","values":[0,5,10],"tickSize":4,"labelPadding":5,"titleFontSize":12.8,"titlePadding":7}}
 }
},
"resolve":{"scale":{"y":"independent"},"axis":{"x":"independent","y":"independent"}}
}
